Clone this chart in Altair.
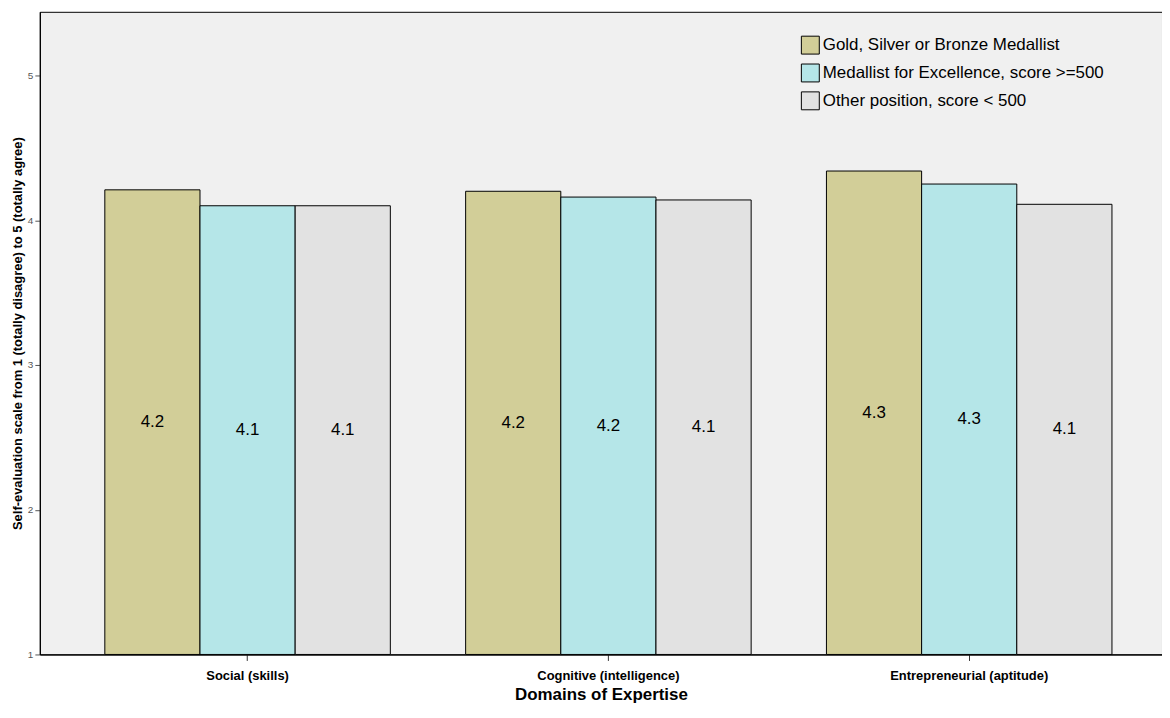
import altair as alt
import pandas as pd

domains = ["Social (skills)", "Cognitive (intelligence)", "Entrepreneurial (aptitude)"]
groups = ["Gold, Silver or Bronze Medallist",
          "Medallist for Excellence, score >=500",
          "Other position, score < 500"]
gold = [4.21, 4.20, 4.34]
excellence = [4.10, 4.16, 4.25]
other = [4.10, 4.14, 4.11]
colors = ["#D2CE98", "#B5E6E8", "#E2E2E2"]

rows = []
for series, vals in zip(groups, [gold, excellence, other]):
    for d, v in zip(domains, vals):
        rows.append({"domain": d, "group": series, "value": v})
df = pd.DataFrame(rows)

FONT = "Liberation Sans"

x = alt.X("domain:N", sort=domains, title="Domains of Expertise",
          scale=alt.Scale(paddingInner=0.2087, paddingOuter=0.1594, align=0.565),
          axis=alt.Axis(labelAngle=0, labelFontSize=13, labelFontWeight="bold",
                        labelColor="black", titleFontSize=17, titleFontWeight="bold",
                        titleColor="black", tickSize=6, tickColor="#333",
                        labelPadding=9, titlePadding=4, domainColor="black",
                        domainWidth=1.2))
xo = alt.XOffset("group:N", sort=groups, scale=alt.Scale(paddingInner=0, paddingOuter=0))
yscale = alt.Scale(domain=[1, 5.44], nice=False, zero=False)

bars = alt.Chart(df).mark_bar(stroke="black", strokeWidth=1, opacity=1).encode(
    x=x,
    xOffset=xo,
    y=alt.Y("value:Q", scale=yscale,
            title="Self-evaluation scale from 1 (totally disagree) to 5 (totally agree)",
            axis=alt.Axis(values=[1, 2, 3, 4, 5], format="d", grid=False, labelFontSize=10,
                          labelColor="#555", tickSize=5, tickColor="#555",
                          labelPadding=2, titleFontSize=13, titleFontWeight="bold",
                          titleColor="black", titlePadding=3, domainColor="black",
                          domainWidth=1.2)),
    y2=alt.datum(1),
    fill=alt.Fill("group:N", sort=groups,
                  scale=alt.Scale(domain=groups, range=colors),
                  legend=alt.Legend(title=None, orient="none", legendX=765, legendY=24,
                                    symbolType="square", symbolSize=324,
                                    symbolStrokeColor="black", symbolStrokeWidth=1,
                                    symbolOpacity=1, labelFontSize=17,
                                    labelColor="black", labelOffset=3, labelLimit=500,
                                    rowPadding=5, labelFont=FONT)),
)

text = alt.Chart(df).transform_calculate(
    mid="(1 + datum.value) / 2"
).mark_text(fontSize=17, color="black", baseline="middle", font=FONT).encode(
    x=alt.X("domain:N", sort=domains),
    xOffset=xo,
    y=alt.Y("mid:Q", scale=yscale),
    text=alt.Text("value:Q", format=".1f"),
)

chart = (bars + text).properties(
    width=1128, height=646,
    autosize=alt.AutoSizeParams(type="none"),
    padding={"left": 32, "top": 2, "right": 0, "bottom": 52},
    background="white",
).configure(font=FONT).configure_view(
    fill="#F0F0F0", stroke="black", strokeWidth=1
)

chart.save("out.html", embed_options={"renderer": "svg", "actions": False})
